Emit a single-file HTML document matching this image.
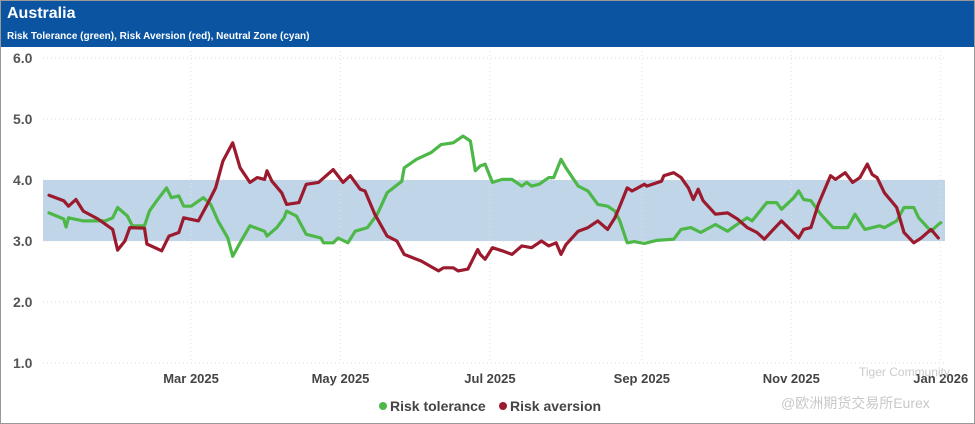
<!DOCTYPE html>
<html><head><meta charset="utf-8"><style>
body{margin:0;background:#fff;font-family:"Liberation Sans",sans-serif}
#wrap{position:relative;width:973px;height:422px;border:1px solid #999;overflow:hidden}
#hdr{position:absolute;left:0;top:0;width:973px;height:46px;background:#0a54a2;color:#fff}
#title{position:absolute;left:6px;top:4px;font-weight:bold;font-size:16px}
#sub{position:absolute;left:6px;top:30px;font-weight:bold;font-size:10px}
svg{position:absolute;left:0;top:0}
</style></head><body>
<div id="wrap">
<div id="hdr">
<div id="title">Australia</div>
<div id="sub">Risk Tolerance (green), Risk Aversion (red), Neutral Zone (cyan)</div>
</div>
<svg id="chart" width="973" height="422"></svg>
</div>
<script>
const yTicks=[1,2,3,4,5,6];
const monthDays=[59,120,181,243,304,365];
const monthLabels=["Mar 2025","May 2025","Jul 2025","Sep 2025","Nov 2025","Jan 2026"];
const neutralZone=[3,4];
const tolDays=[1,7,8,9,15,24,27,29,33,35,40,42,45,49,51,54,56,59,64,67,70,74,76,79,83,89,90,94,97,98,102,106,112,113,117,119,123,126,131,135,139,145,146,151,157,161,166,170,173,175,177,179,182,186,190,194,196,198,201,205,207,210,212,217,221,225,229,232,234,237,240,244,249,256,259,263,267,273,278,281,286,288,294,298,300,305,307,309,312,316,321,327,330,334,340,342,347,350,354,356,361,364,365];
const tolVals=[3.46,3.36,3.23,3.38,3.33,3.33,3.38,3.55,3.41,3.25,3.25,3.49,3.66,3.87,3.71,3.74,3.57,3.57,3.71,3.60,3.33,3.05,2.75,2.97,3.25,3.16,3.08,3.22,3.38,3.49,3.41,3.11,3.05,2.97,2.97,3.05,2.97,3.16,3.22,3.44,3.79,3.98,4.20,4.34,4.45,4.58,4.61,4.72,4.64,4.15,4.23,4.26,3.96,4.01,4.01,3.90,3.96,3.90,3.93,4.04,4.04,4.34,4.20,3.90,3.82,3.60,3.57,3.49,3.33,2.97,2.99,2.96,3.01,3.03,3.19,3.22,3.14,3.27,3.16,3.25,3.38,3.33,3.63,3.63,3.52,3.71,3.82,3.68,3.66,3.44,3.22,3.22,3.44,3.19,3.25,3.22,3.33,3.55,3.55,3.38,3.16,3.27,3.30];
const aveDays=[1,7,9,12,15,21,27,29,32,34,40,41,47,50,54,56,62,66,69,72,76,79,83,86,89,90,92,96,98,103,106,111,117,121,124,128,130,134,139,143,146,153,160,162,166,168,172,176,177,179,182,186,190,194,198,202,205,208,210,212,217,221,225,229,232,234,237,239,244,245,251,252,256,259,262,264,266,268,273,278,282,286,290,293,296,300,302,307,309,312,315,320,322,326,329,332,335,337,339,342,347,350,354,357,361,364];
const aveVals=[3.75,3.66,3.57,3.68,3.49,3.36,3.19,2.85,3.00,3.22,3.21,2.95,2.84,3.08,3.14,3.38,3.33,3.63,3.87,4.31,4.61,4.20,3.96,4.04,4.01,4.15,3.98,3.79,3.60,3.63,3.93,3.96,4.17,3.96,4.07,3.85,3.82,3.44,3.08,3.00,2.78,2.67,2.51,2.56,2.56,2.51,2.54,2.86,2.78,2.70,2.89,2.84,2.78,2.92,2.89,3.00,2.92,2.97,2.78,2.94,3.16,3.22,3.33,3.19,3.38,3.57,3.87,3.82,3.93,3.90,3.98,4.07,4.12,4.04,3.87,3.68,3.85,3.66,3.44,3.46,3.36,3.22,3.14,3.03,3.16,3.33,3.25,3.05,3.19,3.22,3.60,4.07,4.01,4.12,3.96,4.04,4.26,4.09,4.04,3.79,3.55,3.14,2.97,3.05,3.19,3.05];

const svg=document.getElementById('chart');
const NS='http://www.w3.org/2000/svg';
const X0=42,X1=944;
const xs=d=>45.5+d*2.45;
const ys=v=>362-(v-1)*61;
function mk(tag,attrs,parent){const e=document.createElementNS(NS,tag);for(const k in attrs)e.setAttribute(k,attrs[k]);(parent||svg).appendChild(e);return e;}

const band=mk('rect',{x:X0,y:ys(neutralZone[1]),width:X1-X0,height:ys(neutralZone[0])-ys(neutralZone[1]),fill:'#c0d5e7'});



yTicks.forEach(t=>{
  const g=mk('line',{x1:X0,x2:X1,y1:ys(t),y2:ys(t),stroke:'#d8d8d8','stroke-dasharray':'1,3'});
  
  
  const l=mk('text',{x:12,y:ys(t)+5,'font-size':14,'font-weight':'bold',fill:'#555'});
  l.textContent=t.toFixed(1);
  
  
});
monthDays.forEach((d,i)=>{
  const g=mk('line',{x1:xs(d),x2:xs(d),y1:50,y2:362,stroke:'#e2e2e2','stroke-dasharray':'1,3'});
  
  
  const l=mk('text',{x:xs(d),y:382,'font-size':13,'font-weight':'bold',fill:'#444','text-anchor':'middle'});
  l.textContent=monthLabels[i];
  
  
});
function series(days,vals,color,name){
  const p=days.map((d,i)=>xs(d).toFixed(1)+','+ys(vals[i]).toFixed(1)).join(' ');
  const e=mk('polyline',{points:p,fill:'none',stroke:color,'stroke-width':3.2,'stroke-linejoin':'round','stroke-linecap':'round'});
  
  
}
series(tolDays,tolVals,'#4db848','risk-tolerance-line');
series(aveDays,aveVals,'#9c1a2e','risk-aversion-line');

const wm=mk('text',{x:858,y:375,'font-size':12,fill:'#ccc'});
wm.textContent='Tiger Community';


const wm2=mk('text',{x:780,y:407,'font-size':14,fill:'#c8c8c8'});
wm2.textContent='@欧洲期货交易所Eurex';
wm2.setAttribute('font-family','"Liberation Sans","Noto Sans CJK SC",sans-serif');



const leg=[['Risk tolerance','#4db848',376],['Risk aversion','#9c1a2e',496]];
leg.forEach(([t,c,x])=>{
  const c1=mk('circle',{cx:x+6,cy:405,r:4,fill:c});
  
  
  const l=mk('text',{x:x+13,y:410,'font-size':14,'font-weight':'bold',fill:'#444'});
  l.textContent=t;
  
  
});
</script>
</body></html>
